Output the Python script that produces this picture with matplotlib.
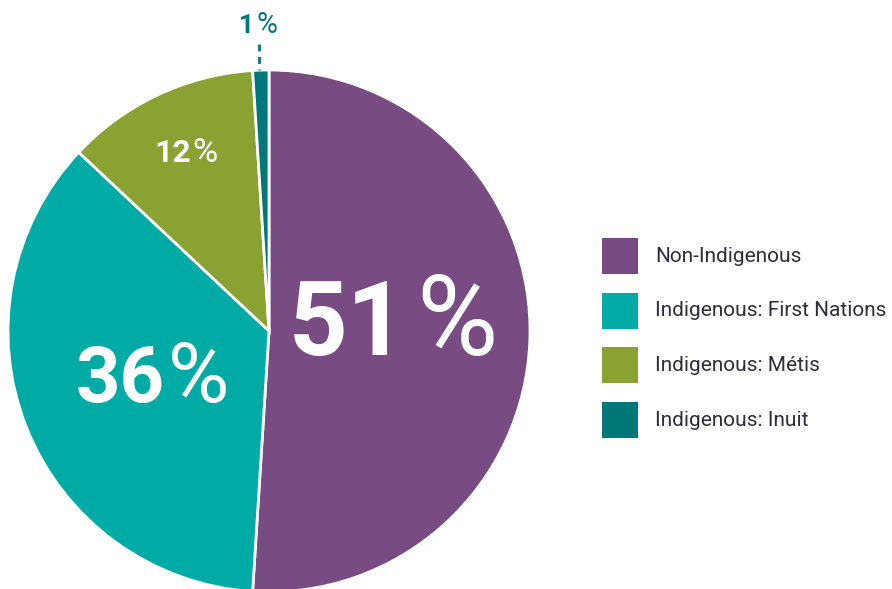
import matplotlib
matplotlib.use("Agg")
import matplotlib.pyplot as plt
from matplotlib.patches import Rectangle

# Data
labels = ["Non-Indigenous", "Indigenous: First Nations", "Indigenous: Métis", "Indigenous: Inuit"]
values = [51, 36, 12, 1]
colors = ["#784B83", "#00ABA6", "#8AA232", "#00787A"]

W, H = 892, 589
fig = plt.figure(figsize=(W / 100, H / 100), dpi=100)
ax = fig.add_axes([0, 0, 1, 1])

def Y(py):
    # pixel row (from top) -> axis y
    return H - py

ax.pie(values, colors=colors, startangle=90, counterclock=False,
       center=(269, Y(331)), radius=261,
       wedgeprops=dict(edgecolor="white", linewidth=2))
ax.set_xlim(0, W)
ax.set_ylim(0, H)
ax.set_aspect("equal")
ax.axis("off")

# percentage labels: bold digits, light percent sign
# (digits right edge, percent left edge, baseline row, font size, colour)
label_pos = [(406, 416, 355, 74, "white"), (165, 168, 402, 56, "white"),
             (191, 192, 162, 23, "white"), (254, 256, 33, 19, "#00787A")]
for v, (xr, xl, yb, fs, c) in zip(values, label_pos):
    ax.text(xr, Y(yb), str(v), ha="right", va="baseline", fontsize=fs,
            fontweight="bold", color=c, family="Roboto")
    ax.text(xl, Y(yb), "%", ha="left", va="baseline", fontsize=fs * 1.08,
            color=c, family="Roboto")

# dashed leader for the 1% slice
ax.plot([259, 259], [Y(44), Y(70)], color="#00787A", lw=2, ls=(0, (2.5, 2)))

# legend: 36px squares, 55px pitch
for i, (lab, c) in enumerate(zip(labels, colors)):
    top = 238 + i * 54.7
    ax.add_patch(Rectangle((602, Y(top + 36)), 36, 36, facecolor=c, edgecolor="none"))
    ax.text(655, Y(top + 18), lab, ha="left", va="center", fontsize=15,
            color="#2E2E3E", family="Roboto")

fig.savefig("out.png", dpi=100)
